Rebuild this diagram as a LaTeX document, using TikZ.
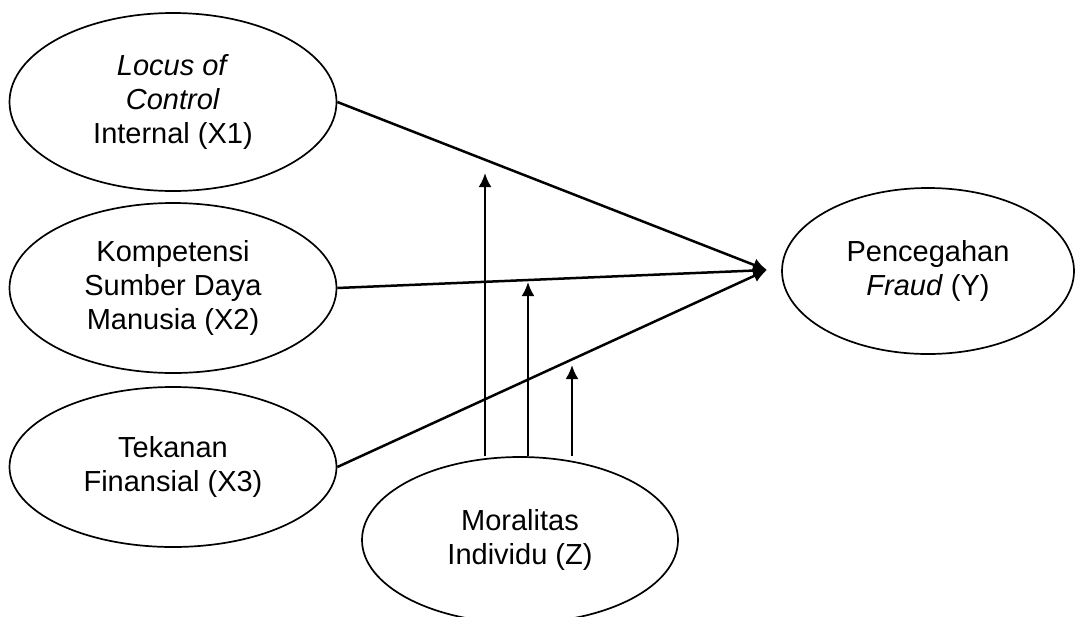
\documentclass[tikz,border=0pt]{standalone}
\usepackage{fontspec}
\setmainfont{Liberation Sans}
\usetikzlibrary{shapes.geometric,arrows.meta}
\tikzset{
	var/.style={draw,ellipse,line width=1.7pt,inner sep=0pt,align=center,font=\fontsize{29}{34}\selectfont},
	link/.style={line width=2.5pt,-{Latex[length=14pt,width=13pt]}}
}

\begin{document}
\begin{tikzpicture}[x=1pt,y=-1pt]
				\useasboundingbox (0,0) rectangle (1075,616);
				
				\node[var,minimum width=327pt,minimum height=178pt] (x1) at (173,102) {\textit{Locus of}\\\textit{Control}\\Internal (X1)};
				\node[var,minimum width=327pt,minimum height=170pt] (x2) at (173,288) {Kompetensi\\Sumber Daya\\Manusia (X2)};
				\node[var,minimum width=327pt,minimum height=160pt] (x3) at (173,467) {Tekanan\\Finansial (X3)};
				\node[var,minimum width=316pt,minimum height=166pt] (z) at (520,540) {Moralitas\\Individu (Z)};
				\node[var,minimum width=292pt,minimum height=166pt] (y) at (928,271) {Pencegahan\\\textit{Fraud} (Y)};
				
				\coordinate (t) at (767,270);
				\draw[link] (x1.east) -- (t);
				\draw[link] (x2.east) -- (t);
				\draw[link] (x3.east) -- (t);
				
				\coordinate (m1) at (485,173);
				\coordinate (m2) at (528,282);
				\coordinate (m3) at (572,365);
				\draw[link] (m1 |- z.north) -- (m1);
				\draw[link] (m2 |- z.north) -- (m2);
				\draw[link] (m3 |- z.north) -- (m3);
			\end{tikzpicture}
\end{document}
